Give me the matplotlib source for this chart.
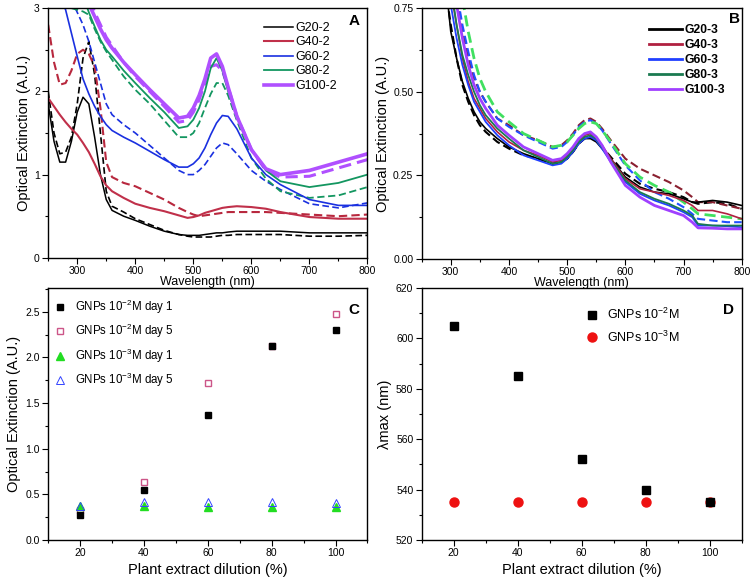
import numpy as np
import matplotlib
matplotlib.use('Agg')
import matplotlib.pyplot as plt
from matplotlib.ticker import MultipleLocator

plt.rcParams['font.family'] = ['Liberation Sans', 'DejaVu Sans']
plt.rcParams['mathtext.default'] = 'regular'
plt.rcParams['xtick.direction'] = 'out'
plt.rcParams['ytick.direction'] = 'out'

# -----------------------------
# Panel A data (10^-2 M series)
# -----------------------------
wl_a = [250, 260, 270, 280, 290, 300, 310, 320, 330, 340, 350, 360, 380, 400, 425, 450,
        475, 490, 500, 510, 520, 530, 540, 550, 560, 575, 600, 625, 650, 700, 750, 800]

g20_2 = [1.85, 1.40, 1.15, 1.15, 1.40, 1.75, 1.93, 1.85, 1.45, 1.00, 0.70, 0.57, 0.50, 0.45, 0.38, 0.32,
         0.28, 0.27, 0.27, 0.27, 0.28, 0.29, 0.30, 0.30, 0.31, 0.32, 0.32, 0.32, 0.32, 0.30, 0.30, 0.30]
g20_2d = [2.00, 1.50, 1.25, 1.27, 1.45, 1.85, 2.40, 2.60, 2.20, 1.50, 0.80, 0.62, 0.55, 0.47, 0.40, 0.33,
          0.28, 0.26, 0.25, 0.25, 0.25, 0.25, 0.26, 0.27, 0.27, 0.28, 0.28, 0.28, 0.28, 0.26, 0.26, 0.27]
g40_2 = [1.92, 1.82, 1.72, 1.63, 1.55, 1.48, 1.38, 1.27, 1.13, 0.98, 0.87, 0.80, 0.72, 0.65, 0.60, 0.56,
         0.51, 0.48, 0.49, 0.51, 0.54, 0.56, 0.58, 0.60, 0.61, 0.62, 0.61, 0.59, 0.55, 0.49, 0.47, 0.47]
g40_2d = [2.80, 2.35, 2.08, 2.10, 2.25, 2.45, 2.50, 2.45, 2.30, 1.80, 1.15, 0.97, 0.90, 0.86, 0.78, 0.70,
          0.60, 0.55, 0.52, 0.50, 0.51, 0.52, 0.53, 0.54, 0.55, 0.55, 0.55, 0.55, 0.54, 0.52, 0.50, 0.52]
g60_2 = [3.60, 3.40, 3.15, 2.98, 2.70, 2.42, 2.15, 1.97, 1.82, 1.70, 1.60, 1.53, 1.45, 1.38, 1.28, 1.18,
         1.09, 1.09, 1.13, 1.20, 1.32, 1.48, 1.62, 1.71, 1.70, 1.55, 1.20, 1.00, 0.88, 0.70, 0.63, 0.63]
g60_2d = [3.80, 3.60, 3.40, 3.20, 3.10, 2.95, 2.80, 2.60, 2.35, 2.10, 1.85, 1.72, 1.60, 1.50, 1.35, 1.20,
          1.05, 1.00, 1.00, 1.05, 1.12, 1.22, 1.32, 1.38, 1.36, 1.25, 1.05, 0.92, 0.82, 0.65, 0.60, 0.66]
g80_2 = [4.00, 3.90, 3.80, 3.70, 3.55, 3.40, 3.15, 2.95, 2.78, 2.62, 2.50, 2.42, 2.25, 2.10, 1.92, 1.75,
         1.56, 1.58, 1.66, 1.80, 2.00, 2.28, 2.40, 2.25, 2.00, 1.70, 1.30, 1.05, 0.92, 0.85, 0.90, 1.00]
g80_2d = [3.40, 3.30, 3.20, 3.10, 3.00, 2.98, 2.96, 2.92, 2.75, 2.60, 2.48, 2.38, 2.18, 2.02, 1.85, 1.65,
          1.45, 1.45, 1.50, 1.62, 1.80, 1.97, 2.10, 2.10, 1.95, 1.65, 1.20, 0.95, 0.80, 0.72, 0.75, 0.85]
g100_2 = [4.20, 4.10, 4.00, 3.90, 3.70, 3.50, 3.30, 3.05, 2.90, 2.75, 2.62, 2.52, 2.35, 2.20, 2.02, 1.85,
          1.68, 1.70, 1.80, 1.95, 2.15, 2.40, 2.45, 2.30, 2.05, 1.70, 1.30, 1.07, 1.00, 1.05, 1.15, 1.25]
g100_2d = [4.30, 4.20, 4.10, 4.00, 3.80, 3.60, 3.40, 3.15, 2.95, 2.80, 2.65, 2.55, 2.35, 2.18, 2.00, 1.82,
           1.63, 1.65, 1.75, 1.90, 2.10, 2.30, 2.32, 2.25, 2.05, 1.70, 1.30, 1.05, 0.97, 0.98, 1.08, 1.18]

# -----------------------------
# Panel B data (10^-3 M series)
# -----------------------------
wl_b = [290, 300, 310, 320, 330, 340, 350, 360, 380, 400, 425, 450, 475, 490, 500, 510,
        520, 530, 540, 550, 560, 575, 600, 625, 650, 675, 700, 715, 725, 750, 775, 800]

g20_3 = [0.85, 0.68, 0.60, 0.53, 0.48, 0.44, 0.41, 0.39, 0.36, 0.335, 0.315, 0.30, 0.285, 0.29, 0.30, 0.32,
         0.345, 0.36, 0.36, 0.35, 0.33, 0.30, 0.245, 0.215, 0.20, 0.195, 0.18, 0.17, 0.17, 0.175, 0.17, 0.16]
g20_3d = [0.82, 0.70, 0.60, 0.52, 0.47, 0.43, 0.40, 0.38, 0.35, 0.33, 0.31, 0.30, 0.285, 0.29, 0.30, 0.32,
          0.345, 0.36, 0.365, 0.355, 0.335, 0.305, 0.255, 0.225, 0.21, 0.20, 0.185, 0.17, 0.165, 0.17, 0.165, 0.15]
g40_3 = [0.95, 0.80, 0.70, 0.60, 0.53, 0.48, 0.45, 0.42, 0.38, 0.35, 0.325, 0.31, 0.29, 0.295, 0.31, 0.33,
         0.355, 0.37, 0.375, 0.36, 0.34, 0.30, 0.24, 0.21, 0.20, 0.19, 0.175, 0.16, 0.145, 0.145, 0.135, 0.12]
g40_3d = [1.10, 0.95, 0.78, 0.68, 0.60, 0.54, 0.50, 0.47, 0.42, 0.40, 0.37, 0.355, 0.335, 0.34, 0.355, 0.375,
          0.40, 0.415, 0.42, 0.41, 0.39, 0.355, 0.30, 0.27, 0.25, 0.23, 0.205, 0.185, 0.17, 0.17, 0.16, 0.15]
g60_3 = [0.90, 0.76, 0.66, 0.58, 0.52, 0.47, 0.44, 0.41, 0.37, 0.34, 0.31, 0.295, 0.28, 0.285, 0.30, 0.32,
         0.345, 0.36, 0.365, 0.355, 0.33, 0.29, 0.23, 0.195, 0.175, 0.16, 0.14, 0.125, 0.10, 0.10, 0.098, 0.095]
g60_3d = [1.10, 0.95, 0.80, 0.70, 0.62, 0.55, 0.50, 0.47, 0.42, 0.395, 0.37, 0.35, 0.33, 0.335, 0.35, 0.37,
          0.395, 0.41, 0.415, 0.405, 0.385, 0.345, 0.28, 0.235, 0.20, 0.18, 0.155, 0.135, 0.12, 0.115, 0.11, 0.11]
g80_3 = [0.95, 0.82, 0.70, 0.61, 0.55, 0.50, 0.46, 0.43, 0.39, 0.36, 0.325, 0.305, 0.285, 0.29, 0.305, 0.325,
         0.35, 0.365, 0.37, 0.36, 0.335, 0.295, 0.235, 0.20, 0.18, 0.165, 0.145, 0.13, 0.105, 0.10, 0.10, 0.10]
g80_3d = [1.15, 1.00, 0.88, 0.78, 0.68, 0.60, 0.54, 0.50, 0.44, 0.41, 0.375, 0.355, 0.335, 0.34, 0.35, 0.37,
          0.39, 0.405, 0.41, 0.405, 0.385, 0.35, 0.285, 0.245, 0.22, 0.20, 0.17, 0.15, 0.135, 0.13, 0.125, 0.12]
g100_3 = [1.00, 0.85, 0.76, 0.66, 0.58, 0.52, 0.48, 0.45, 0.40, 0.37, 0.335, 0.315, 0.295, 0.30, 0.315, 0.335,
          0.36, 0.375, 0.38, 0.365, 0.34, 0.29, 0.22, 0.185, 0.16, 0.145, 0.13, 0.11, 0.093, 0.092, 0.09, 0.09]

# -----------------------------
# Panels C and D data
# -----------------------------
dilution = [20, 40, 60, 80, 100]
ext_2_day1 = [0.27, 0.55, 1.37, 2.13, 2.30]
ext_2_day5 = [0.33, 0.64, 1.72, 2.13, 2.48]
ext_3_day1 = [0.37, 0.37, 0.36, 0.36, 0.36]
ext_3_day5 = [0.37, 0.42, 0.42, 0.42, 0.41]

lmax_2 = [605, 585, 552, 540, 535]
lmax_3 = [535, 535, 535, 535, 535]

fig = plt.figure(figsize=(7.53, 5.82), dpi=100)
axA = fig.add_axes([0.064, 0.557, 0.424, 0.429])
axB = fig.add_axes([0.560, 0.555, 0.425, 0.431])
axC = fig.add_axes([0.064, 0.072, 0.424, 0.433])
axD = fig.add_axes([0.560, 0.072, 0.425, 0.433])

dash = (0, (4, 2))

# --- A ---
axA.plot(wl_a, g20_2d, color='black', lw=1.2, ls=dash)
axA.plot(wl_a, g40_2d, color='#b8283e', lw=1.5, ls=dash)
axA.plot(wl_a, g60_2d, color='#1a30e0', lw=1.2, ls=dash)
axA.plot(wl_a, g80_2d, color='#139660', lw=1.3, ls=dash)
axA.plot(wl_a, g100_2d, color='#b050ff', lw=2.2, ls=dash)
axA.plot(wl_a, g20_2, color='black', lw=1.1, label='G20-2')
axA.plot(wl_a, g40_2, color='#c0304a', lw=1.5, label='G40-2')
axA.plot(wl_a, g60_2, color='#1a30e0', lw=1.2, label='G60-2')
axA.plot(wl_a, g80_2, color='#139660', lw=1.3, label='G80-2')
axA.plot(wl_a, g100_2, color='#b050ff', lw=2.6, label='G100-2')
axA.set_xlim(250, 800)
axA.set_ylim(0, 3)
axA.xaxis.set_major_locator(MultipleLocator(100))
axA.xaxis.set_minor_locator(MultipleLocator(50))
axA.yaxis.set_major_locator(MultipleLocator(1))
axA.yaxis.set_minor_locator(MultipleLocator(0.5))
axA.set_xlabel('Wavelength (nm)', fontsize=9, labelpad=0)
axA.set_ylabel('Optical Extinction (A.U.)', fontsize=10.5, labelpad=2)
axA.legend(loc='upper left', bbox_to_anchor=(0.65, 0.98), frameon=False, fontsize=9,
           handlelength=2.3, labelspacing=0.2, handletextpad=0.2, borderpad=0.2)
axA.text(0.975, 0.975, 'A', transform=axA.transAxes, ha='right', va='top',
         fontsize=11, fontweight='bold')

# --- B ---
axB.plot(wl_b, g20_3d, color='black', lw=1.5, ls=dash)
axB.plot(wl_b, g40_3d, color='#8a2030', lw=1.5, ls=dash)
axB.plot(wl_b, g60_3d, color='#2050ff', lw=1.5, ls=dash)
axB.plot(wl_b, g80_3d, color='#40e060', lw=2.0, ls=dash)
axB.plot(wl_b, g20_3, color='black', lw=1.2, label='G20-3')
axB.plot(wl_b, g40_3, color='#b02040', lw=1.2, label='G40-3')
axB.plot(wl_b, g60_3, color='#2040ff', lw=1.3, label='G60-3')
axB.plot(wl_b, g80_3, color='#1a7a50', lw=1.3, label='G80-3')
axB.plot(wl_b, g100_3, color='#a040ff', lw=2.0, label='G100-3')
axB.set_xlim(250, 800)
axB.set_ylim(0, 0.75)
axB.xaxis.set_major_locator(MultipleLocator(100))
axB.xaxis.set_minor_locator(MultipleLocator(50))
axB.yaxis.set_major_locator(MultipleLocator(0.25))
axB.yaxis.set_minor_locator(MultipleLocator(0.125))
axB.yaxis.set_major_formatter(plt.FormatStrFormatter('%.2f'))
axB.set_xlabel('Wavelength (nm)', fontsize=9, labelpad=0)
axB.set_ylabel('Optical Extinction (A.U.)', fontsize=10.5, labelpad=2)
leg = axB.legend(loc='upper left', bbox_to_anchor=(0.685, 0.97), frameon=False,
                 handlelength=2.7, labelspacing=0.25, handletextpad=0.2, borderpad=0.2,
                 prop={'weight': 'bold', 'size': 8.7})
for line in leg.get_lines():
    line.set_linewidth(2.0)
axB.text(0.995, 0.985, 'B', transform=axB.transAxes, ha='right', va='top',
         fontsize=11, fontweight='bold')

# --- C ---
axC.plot(dilution, ext_2_day1, 's', color='black', ms=5, label='GNPs 10$^{-2}$M day 1')
axC.plot(dilution, ext_2_day5, 's', mfc='none', mec='#cc5588', mew=1.0, ms=5,
         label='GNPs 10$^{-2}$M day 5', zorder=1)
axC.plot(dilution, ext_3_day1, '^', color='#22dd22', ms=6, label='GNPs 10$^{-3}$M day 1')
axC.plot(dilution, ext_3_day5, '^', mfc='none', mec='#3344ff', mew=0.7, ms=6,
         label='GNPs 10$^{-3}$M day 5')
axC.set_xlim(10, 110)
axC.set_ylim(0, 2.76)
axC.xaxis.set_major_locator(MultipleLocator(20))
axC.xaxis.set_minor_locator(MultipleLocator(10))
axC.yaxis.set_major_locator(MultipleLocator(0.5))
axC.yaxis.set_minor_locator(MultipleLocator(0.25))
axC.yaxis.set_major_formatter(plt.FormatStrFormatter('%.1f'))
axC.set_xlabel('Plant extract dilution (%)', fontsize=10.5, labelpad=3)
axC.set_ylabel('Optical Extinction (A.U.)', fontsize=10.5, labelpad=3)
axC.legend(loc='upper left', bbox_to_anchor=(-0.01, 0.995), frameon=False, fontsize=8.3,
           handlelength=1.2, labelspacing=0.55, handletextpad=0.7, borderpad=0.2)
axC.text(0.975, 0.94, 'C', transform=axC.transAxes, ha='right', va='top',
         fontsize=11, fontweight='bold')

# --- D ---
axD.plot(dilution, lmax_2, 's', color='black', ms=5.5, label='GNPs 10$^{-2}$M')
axD.plot(dilution, lmax_3, 'o', color='#ee1111', ms=6.5, label='GNPs 10$^{-3}$M', zorder=1)
axD.set_xlim(10, 110)
axD.set_ylim(520, 620)
axD.xaxis.set_major_locator(MultipleLocator(20))
axD.xaxis.set_minor_locator(MultipleLocator(10))
axD.yaxis.set_major_locator(MultipleLocator(20))
axD.yaxis.set_minor_locator(MultipleLocator(10))
axD.set_xlabel('Plant extract dilution (%)', fontsize=10.5, labelpad=3)
axD.set_ylabel('λmax (nm)', fontsize=10.5, labelpad=3)
axD.legend(loc='upper left', bbox_to_anchor=(0.48, 0.96), frameon=False, fontsize=9,
           handlelength=1.2, labelspacing=0.6, handletextpad=0.6, borderpad=0.2)
axD.text(0.975, 0.94, 'D', transform=axD.transAxes, ha='right', va='top',
         fontsize=11, fontweight='bold')

for ax in (axA, axB, axC, axD):
    ax.tick_params(which='major', length=4, width=0.8, labelsize=7.5, pad=2)
    ax.tick_params(which='minor', length=2, width=0.8)
    for s in ax.spines.values():
        s.set_linewidth(1.0)

fig.savefig('out.png', dpi=100)
